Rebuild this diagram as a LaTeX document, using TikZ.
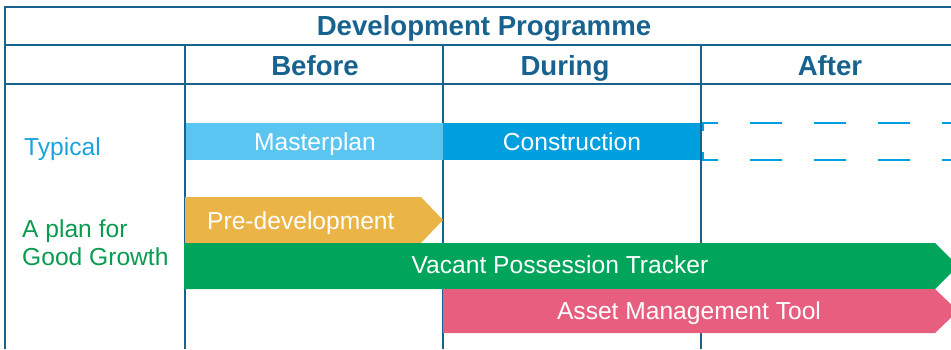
\documentclass[tikz,border=0pt]{standalone}
\usepackage{fontspec}
\setmainfont{Liberation Sans}
\definecolor{frame}{HTML}{17628F}
\definecolor{typ}{HTML}{1AA3E0}
\definecolor{mplan}{HTML}{5BC5F2}
\definecolor{constr}{HTML}{009FE0}
\definecolor{predev}{HTML}{EBB446}
\definecolor{vacant}{HTML}{00A55B}
\definecolor{gtext}{HTML}{0A9B50}
\definecolor{asset}{HTML}{E75E7F}
\tikzset{
  gridline/.style={draw=frame,line width=2.7pt},
  headtxt/.style={anchor=base,inner sep=0pt,text=frame,font=\fontsize{27.6}{30}\selectfont\bfseries},
  bartxt/.style={anchor=base,inner sep=0pt,text=white,font=\fontsize{24.6}{28}\selectfont},
  sidetxt/.style={anchor=base west,inner sep=0pt,font=\fontsize{24.6}{28}\selectfont},
  dashline/.style={draw=constr,line width=2.4pt,dash pattern=on 32pt off 32pt,dash phase=17pt}
}
\begin{document}
\begin{tikzpicture}[x=1pt,y=-1pt]
\useasboundingbox (0,0) rectangle (951,349);
% grid
\draw[gridline] (5,349) -- (5,7) -- (951,7);
\draw[gridline] (5,45) -- (951,45);
\draw[gridline] (5,84) -- (951,84);
\draw[gridline] (185,45) -- (185,349);
\draw[gridline] (443,45) -- (443,349);
\draw[gridline] (701,45) -- (701,349);
% headings
\node[headtxt] (title) at (484,35) {Development Programme};
\node[headtxt] (before) at (315,75) {Before};
\node[headtxt] (during) at (565,75) {During};
\node[headtxt] (after) at (830,75) {After};
% typical row
\fill[mplan] (186,123) rectangle (443,160);
\fill[constr] (443,123) rectangle (700,160);
\draw[dashline] (703,123) -- (951,123);
\draw[dashline] (703,160) -- (951,160);
\draw[draw=constr,line width=2.4pt] (703.2,122) -- (703.2,131);
\draw[draw=constr,line width=2.4pt] (703.2,152) -- (703.2,161);
\node[sidetxt,text=typ] (typical) at (24,155) {Typical};
\node[bartxt] (masterplan) at (315,150) {Masterplan};
\node[bartxt] (construction) at (572,150) {Construction};
% good growth rows
\fill[predev] (185,197) -- (421,197) -- (443,220) -- (421,243) -- (185,243) -- cycle;
\fill[vacant] (184,243) -- (935,243) -- (958,266) -- (935,289) -- (184,289) -- cycle;
\fill[asset] (443,289) -- (935,289) -- (958,311) -- (935,333) -- (443,333) -- cycle;
\node[sidetxt,text=gtext] (plan1) at (22,237) {A plan for};
\node[sidetxt,text=gtext] (plan2) at (22,265) {Good Growth};
\node[bartxt,anchor=base west] (predevt) at (207,229) {Pre-development};
\node[bartxt] (vacantt) at (560,273) {Vacant Possession Tracker};
\node[bartxt] (assett) at (689,319) {Asset Management Tool};
\end{tikzpicture}
\end{document}
